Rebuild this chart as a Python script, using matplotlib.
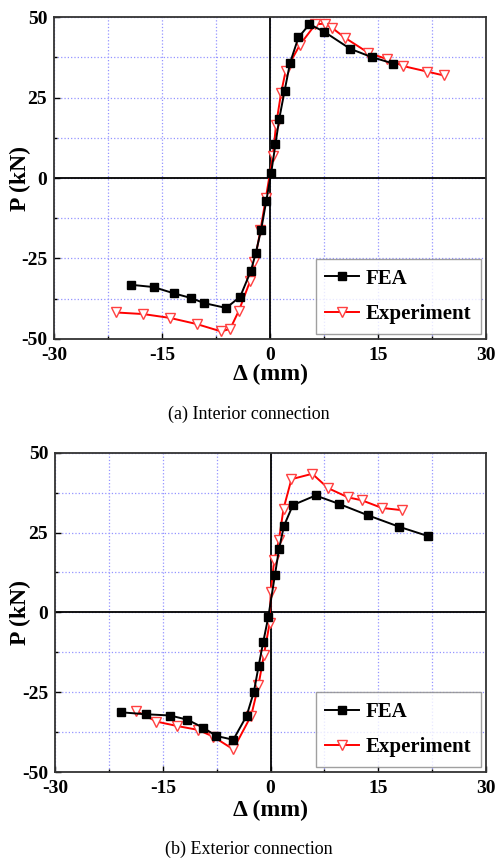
import numpy as np
import matplotlib
matplotlib.use('Agg')
import matplotlib.pyplot as plt
from matplotlib.ticker import MultipleLocator

plt.rcParams['font.family'] = ['Liberation Serif', 'DejaVu Serif']
plt.rcParams['axes.unicode_minus'] = False

# (a) interior connection
int_fea_x = [-19.3, -16.2, -13.3, -11.0, -9.15, -6.1, -4.16, -2.68, -2.0, -1.25, -0.55, 0.14,
             0.74, 1.25, 2.0, 2.77, 3.93, 5.46, 7.5, 11.1, 14.1, 17.1]
int_fea_p = [-33.2, -33.9, -35.9, -37.3, -38.9, -40.4, -36.9, -28.9, -23.4, -16.1, -7.3, 1.5,
             10.5, 18.2, 27.0, 35.8, 43.7, 47.8, 45.5, 40.2, 37.6, 35.6]
int_exp_x = [-21.4, -17.6, -13.9, -10.2, -6.8, -5.55, -4.35, -2.77, -2.17, -1.34, -0.6, 0.37,
             0.83, 1.53, 2.17, 4.16, 6.3, 7.63, 8.6, 10.4, 13.6, 16.3, 18.5, 21.8, 24.1]
int_exp_p = [-41.8, -42.3, -43.5, -45.4, -47.7, -46.9, -41.3, -32.0, -26.0, -16.2, -6.3, 6.8,
             16.6, 26.5, 33.4, 41.5, 47.8, 48.0, 46.7, 43.6, 39.0, 36.9, 34.8, 33.1, 31.9]

# (b) exterior connection
ext_fea_x = [-20.8, -17.4, -14.0, -11.6, -9.4, -7.56, -5.2, -3.34, -2.32, -1.67, -1.02, -0.32,
             0.6, 1.16, 1.86, 3.1, 6.26, 9.5, 13.55, 17.9, 21.9]
ext_fea_p = [-31.3, -31.9, -32.3, -33.6, -36.1, -38.7, -39.9, -32.4, -24.8, -16.8, -9.2, -1.4,
             11.7, 19.7, 27.1, 33.6, 36.6, 34.0, 30.4, 26.8, 23.9]
ext_exp_x = [-18.7, -15.9, -13.0, -10.1, -8.0, -5.2, -2.7, -1.7, -0.93, -0.14, 0.02, 0.5,
             1.16, 1.8, 2.9, 5.8, 8.0, 10.8, 12.7, 15.5, 18.3]
ext_exp_p = [-30.9, -34.2, -35.6, -36.8, -38.9, -42.9, -32.3, -22.9, -13.3, -3.4, 6.5, 16.3,
             22.7, 32.5, 41.7, 43.4, 38.9, 36.0, 35.1, 32.7, 32.0]

# rect, data, caption, caption y, xlabel y, ylabel x
panels = [
    ([0.109, 0.606, 0.869, 0.374], int_fea_x, int_fea_p, int_exp_x, int_exp_p,
     '(a) Interior connection', 0.5186, -0.112, -0.079),
    ([0.111, 0.1023, 0.867, 0.3713], ext_fea_x, ext_fea_p, ext_exp_x, ext_exp_p,
     '(b) Exterior connection', 0.0128, -0.119, -0.081),
]

fig = plt.figure(figsize=(4.97, 8.6), dpi=100)

for rect, fx, fp, ex, ep, caption, cy, xly, ylx in panels:
    ax = fig.add_axes(rect)
    ax.set_xlim(-30, 30)
    ax.set_ylim(-50, 50)
    ax.xaxis.set_major_locator(MultipleLocator(15))
    ax.xaxis.set_minor_locator(MultipleLocator(7.5))
    ax.yaxis.set_major_locator(MultipleLocator(25))
    ax.yaxis.set_minor_locator(MultipleLocator(12.5))
    ax.grid(True, which='both', color='#9494ff', linestyle=':', linewidth=0.9)
    ax.axhline(0, color='black', lw=1.3, zorder=2)
    ax.axvline(0, color='black', lw=1.3, zorder=2)
    ax.tick_params(which='both', direction='in', top=False, right=False)
    ax.tick_params(which='major', length=4, width=1.0, labelsize=14)
    ax.tick_params(axis='x', which='major', pad=6)
    ax.tick_params(axis='y', which='major', pad=5)
    ax.tick_params(which='minor', length=2.5, width=1.0)
    for lab in ax.get_xticklabels() + ax.get_yticklabels():
        lab.set_fontweight('bold')
    for sp in ax.spines.values():
        sp.set_linewidth(1.3)
        sp.set_color('#333333')

    ax.plot(fx, fp, color='black', lw=1.4, marker='s', ms=5.5, label='FEA', zorder=4)
    ax.plot(ex, ep, color='red', lw=1.4, marker='v', ms=7, mfc='white', mec='#ff4040',
            mew=1.0, label='Experiment', zorder=3)

    ax.set_xlabel('Δ (mm)', fontsize=17, fontweight='bold', va='center')
    ax.xaxis.set_label_coords(0.5, xly)
    ax.set_ylabel('P (kN)', fontsize=17, fontweight='bold', va='center')
    ax.yaxis.set_label_coords(ylx, 0.5)
    leg = ax.legend(loc='lower right', prop={'weight': 'bold', 'size': 15}, fancybox=False,
                    frameon=True, borderaxespad=0.25, handlelength=1.6, labelspacing=0.75,
                    borderpad=0.45, handletextpad=0.35)
    leg.get_frame().set_edgecolor('#888888')
    leg.get_frame().set_linewidth(1.0)

    fig.text(0.5, cy, caption, ha='center', va='center', fontsize=13)

fig.savefig('out.png', dpi=100)
